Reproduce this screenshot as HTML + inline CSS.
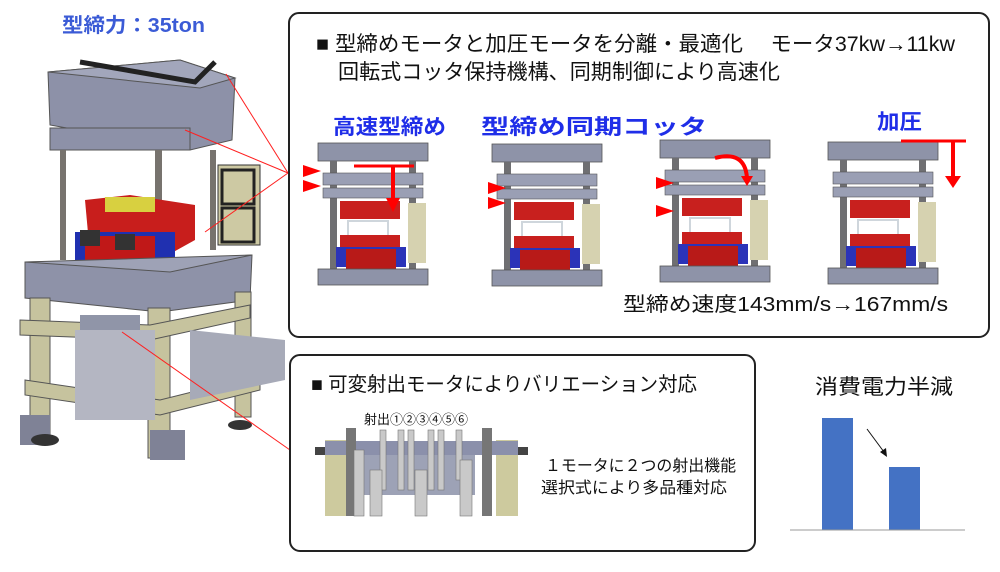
<!DOCTYPE html>
<html><head><meta charset="utf-8"><style>
body{margin:0;width:1000px;height:567px;background:#fff;overflow:hidden}
svg text{font-family:"Liberation Sans","Noto Sans CJK JP",sans-serif}
</style></head><body>
<svg width="1000" height="567" viewBox="0 0 1000 567" xmlns="http://www.w3.org/2000/svg">
<defs>
<g id="press">
 <rect x="0" y="0" width="110" height="18" fill="#8e93a8" stroke="#555" stroke-width="0.8"/>
 <rect x="12" y="18" width="7" height="115" fill="#6f6f72"/>
 <rect x="91" y="18" width="7" height="115" fill="#6f6f72"/>
 <rect x="5" y="30" width="100" height="12" fill="#9a9fb4" stroke="#555" stroke-width="0.6"/>
 <rect x="5" y="45" width="100" height="10" fill="#9a9fb4" stroke="#555" stroke-width="0.6"/>
 <rect x="22" y="58" width="60" height="18" fill="#c8201e"/>
 <rect x="30" y="78" width="40" height="20" fill="none" stroke="#cfd6dc" stroke-width="2"/>
 <rect x="90" y="60" width="18" height="60" fill="#d6d2b0"/>
 <rect x="22" y="92" width="60" height="12" fill="#c8201e"/>
 <rect x="18" y="104" width="70" height="20" fill="#2b33b8"/>
 <rect x="28" y="106" width="50" height="20" fill="#b81a18"/>
 <rect x="0" y="126" width="110" height="16" fill="#8e93a8" stroke="#555" stroke-width="0.8"/>
</g>
<polygon id="tri" points="0,0 18,6 0,12" fill="#ff0000"/>
</defs>

<text x="62" y="32" font-size="20" font-weight="bold" fill="#3b5bd6" textLength="143" lengthAdjust="spacingAndGlyphs">型締力：35ton</text>

<g>
 <polygon points="48,72 180,60 235,78 232,140 190,150 50,125" fill="#8d91a8" stroke="#555"/>
 <polygon points="48,72 200,88 235,78 180,60" fill="#a2a6bb" stroke="#555"/>
 <path d="M80,62 L195,82 L215,62" stroke="#222" stroke-width="5" fill="none"/>
 <rect x="50" y="128" width="140" height="22" fill="#8d91a8" stroke="#555"/>
 <rect x="218" y="165" width="42" height="80" fill="#cdc9a3" stroke="#333"/>
 <rect x="222" y="170" width="32" height="34" fill="none" stroke="#222" stroke-width="3"/>
 <rect x="222" y="208" width="32" height="34" fill="none" stroke="#222" stroke-width="3"/>
 <rect x="60" y="150" width="6" height="110" fill="#77736e"/>
 <rect x="155" y="150" width="7" height="120" fill="#77736e"/>
 <rect x="210" y="150" width="6" height="100" fill="#77736e"/>
 <polygon points="85,200 130,195 195,205 195,240 150,265 90,255" fill="#c81e1c"/>
 <rect x="105" y="197" width="50" height="15" fill="#d8d040"/>
 <rect x="75" y="232" width="100" height="28" fill="#2030b0"/>
 <rect x="85" y="236" width="70" height="25" fill="#c01818"/>
 <rect x="80" y="230" width="20" height="16" fill="#333"/>
 <rect x="115" y="234" width="20" height="16" fill="#333"/>
 <polygon points="25,262 180,260 252,255 250,300 160,312 25,298" fill="#8e92a8" stroke="#555"/>
 <polygon points="25,262 170,272 252,255" fill="#9ea2b6" stroke="#555"/>
 <rect x="30" y="298" width="20" height="140" fill="#c6c39e" stroke="#555"/>
 <rect x="148" y="308" width="22" height="150" fill="#c6c39e" stroke="#555"/>
 <rect x="235" y="292" width="16" height="125" fill="#c6c39e" stroke="#555"/>
 <polygon points="20,320 150,325 250,305 250,318 150,340 20,335" fill="#c6c39e" stroke="#555"/>
 <polygon points="25,380 160,400 260,375 260,390 160,415 25,395" fill="#c6c39e" stroke="#555"/>
 <rect x="75" y="330" width="80" height="90" fill="#b4b6c2"/>
 <rect x="80" y="315" width="60" height="15" fill="#9095a8"/>
 <polygon points="190,330 285,340 285,380 190,400" fill="#a7aab8"/>
 <rect x="20" y="415" width="30" height="30" fill="#7f8296"/>
 <rect x="150" y="430" width="35" height="30" fill="#7f8296"/>
 <ellipse cx="45" cy="440" rx="14" ry="6" fill="#333"/>
 <ellipse cx="240" cy="425" rx="12" ry="5" fill="#333"/>
</g>
<g stroke="#ff2020" stroke-width="1">
 <line x1="226" y1="74" x2="288" y2="173"/>
 <line x1="185" y1="130" x2="288" y2="173"/>
 <line x1="205" y1="232" x2="288" y2="173"/>
 <line x1="122" y1="332" x2="290" y2="450"/>
</g>

<rect x="289" y="13" width="700" height="324" rx="10" fill="none" stroke="#222" stroke-width="2"/>
<text x="316" y="51" font-size="21" fill="#111" textLength="639" lengthAdjust="spacingAndGlyphs">■ 型締めモータと加圧モータを分離・最適化　 モータ37kw→11kw</text>
<text x="338" y="79" font-size="21" fill="#111" textLength="442" lengthAdjust="spacingAndGlyphs">回転式コッタ保持機構、同期制御により高速化</text>
<text x="333" y="134" font-size="21" font-weight="bold" fill="#1f2ee8" textLength="113" lengthAdjust="spacingAndGlyphs">高速型締め</text>
<text x="481" y="134" font-size="21" font-weight="bold" fill="#1f2ee8" textLength="226" lengthAdjust="spacingAndGlyphs">型締め同期コッタ</text>
<text x="877" y="129" font-size="21" font-weight="bold" fill="#1f2ee8" textLength="45" lengthAdjust="spacingAndGlyphs">加圧</text>

<use href="#press" x="318" y="143"/>
<use href="#press" x="492" y="144"/>
<use href="#press" x="660" y="140"/>
<use href="#press" x="828" y="142"/>
<g fill="#ff0000" stroke="#ff0000">
 <line x1="354" y1="166" x2="414" y2="166" stroke-width="3"/>
 <line x1="393" y1="166" x2="393" y2="200" stroke-width="4"/>
 <polygon points="386,198 400,198 393,212" stroke="none"/>
 <line x1="901" y1="141" x2="966" y2="141" stroke-width="3"/>
 <line x1="953" y1="141" x2="953" y2="178" stroke-width="4"/>
 <polygon points="945,176 961,176 953,188" stroke="none"/>
 <path d="M715,158 Q745,150 747,178" fill="none" stroke-width="4"/>
 <polygon points="741,176 753,176 747,186" stroke="none"/>
</g>
<use href="#tri" x="303" y="165"/><use href="#tri" x="303" y="180"/>
<use href="#tri" x="488" y="182"/><use href="#tri" x="488" y="197"/>
<use href="#tri" x="656" y="177"/><use href="#tri" x="656" y="205"/>
<text x="623" y="311" font-size="20" fill="#111" textLength="325" lengthAdjust="spacingAndGlyphs">型締め速度143mm/s→167mm/s</text>

<rect x="290" y="355" width="465" height="196" rx="10" fill="none" stroke="#222" stroke-width="2"/>
<text x="311" y="391" font-size="20" fill="#111" textLength="386" lengthAdjust="spacingAndGlyphs">■ 可変射出モータによりバリエーション対応</text>
<text x="364" y="424" font-size="13" fill="#111">射出①②③④⑤⑥</text>
<g>
 <rect x="325" y="440" width="26" height="76" fill="#cdca9e"/>
 <rect x="496" y="440" width="22" height="76" fill="#cdca9e"/>
 <rect x="325" y="441" width="193" height="14" fill="#8b90ab"/>
 <rect x="346" y="428" width="10" height="88" fill="#767676"/>
 <rect x="482" y="428" width="10" height="88" fill="#767676"/>
 <rect x="360" y="455" width="115" height="40" fill="#9da2b6"/>
 <g fill="#c9c9c9" stroke="#777" stroke-width="0.6">
  <rect x="380" y="430" width="6" height="60"/><rect x="398" y="430" width="6" height="60"/>
  <rect x="408" y="430" width="6" height="60"/><rect x="428" y="430" width="6" height="60"/>
  <rect x="438" y="430" width="6" height="60"/><rect x="456" y="430" width="6" height="50"/>
  <rect x="354" y="450" width="10" height="66"/><rect x="370" y="470" width="12" height="46"/>
  <rect x="415" y="470" width="12" height="46"/><rect x="460" y="460" width="12" height="56"/>
 </g>
 <rect x="315" y="447" width="10" height="8" fill="#444"/>
 <rect x="518" y="447" width="10" height="8" fill="#444"/>
</g>
<text x="545" y="471" font-size="16" fill="#111" textLength="191" lengthAdjust="spacingAndGlyphs">１モータに２つの射出機能</text>
<text x="541" y="493" font-size="16" fill="#111" textLength="186" lengthAdjust="spacingAndGlyphs">選択式により多品種対応</text>

<text x="815" y="394" font-size="21" fill="#111" textLength="138" lengthAdjust="spacingAndGlyphs">消費電力半減</text>
<rect x="822" y="418" width="31" height="112" fill="#4472c4"/>
<rect x="889" y="467" width="31" height="63" fill="#4472c4"/>
<line x1="790" y1="530" x2="965" y2="530" stroke="#999" stroke-width="1"/>
<line x1="867" y1="429" x2="884" y2="452" stroke="#111" stroke-width="1"/>
<polygon points="880,452 887,457 886,448" fill="#111"/>
</svg>
</body></html>
